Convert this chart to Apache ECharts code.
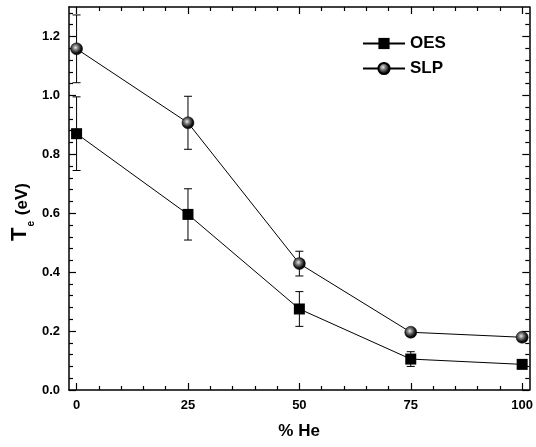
<!DOCTYPE html>
<html>
<head>
<meta charset="utf-8">
<script src="https://cdn.jsdelivr.net/npm/echarts@6/dist/echarts.min.js"></script>
<style>
html,body{margin:0;padding:0;background:#fff;}
#c{width:536px;height:447px;}
</style>
</head>
<body>
<div id="c"></div>
<script>
var heX = [0, 25, 50, 75, 100];
var oesVal = [0.870, 0.596, 0.275, 0.105, 0.087];
var oesErr = [0.125, 0.087, 0.059, 0.025, 0.010];
var slpVal = [1.158, 0.907, 0.429, 0.196, 0.179];
var slpErr = [0.115, 0.090, 0.042, 0.013, 0.012];
var xMajor = [0, 25, 50, 75, 100];
var yMajor = [0, 0.2, 0.4, 0.6, 0.8, 1.0, 1.2];

var FONT = '"Liberation Sans", Arial, sans-serif';
var XMIN = -1.7, XMAX = 101.6, YMIN = 0, YMAX = 1.3;

var xMinor = [];
for (var i = 0; i <= 20; i++) { var v = i * 5; if (v % 25 !== 0) xMinor.push(v); }
var yMinor = [];
for (var j = 0; j <= 32; j++) { var w = +(j * 0.04).toFixed(2); if (Math.abs(w / 0.2 - Math.round(w / 0.2)) > 1e-6) yMinor.push(w); }

function pts(xs, ys) { return xs.map(function (x, k) { return [x, ys[k]]; }); }
function errs(xs, ys, es) { return xs.map(function (x, k) { return [x, ys[k] - es[k], ys[k] + es[k]]; }); }

var sphere = {
  type: 'radial', x: 0.42, y: 0.4, r: 0.6,
  colorStops: [
    { offset: 0, color: '#e8e8e8' },
    { offset: 0.35, color: '#777' },
    { offset: 0.75, color: '#111' },
    { offset: 1, color: '#000' }
  ]
};

function xAx(pos, major, show) {
  return {
    type: 'value', position: pos, min: XMIN, max: XMAX,
    axisLine: { show: show, onZero: false, lineStyle: { color: '#000', width: 1.5 } },
    axisTick: { show: true, inside: true, length: major ? 7 : 4, customValues: major ? xMajor : xMinor, lineStyle: { color: '#000', width: 1.2 } },
    axisLabel: { show: major && pos === 'bottom', customValues: xMajor, margin: 9, color: '#000', fontFamily: FONT, fontWeight: 'bold', fontSize: 13 },
    splitLine: { show: false },
    name: (major && pos === 'bottom') ? '% He' : '',
    nameLocation: 'middle', nameGap: 33,
    nameTextStyle: { color: '#000', fontFamily: FONT, fontWeight: 'bold', fontSize: 17 }
  };
}
function yAx(pos, major, show) {
  return {
    type: 'value', position: pos, min: YMIN, max: YMAX,
    axisLine: { show: show, onZero: false, lineStyle: { color: '#000', width: 1.5 } },
    axisTick: { show: true, inside: true, length: major ? 7 : 4, customValues: major ? yMajor : yMinor, lineStyle: { color: '#000', width: 1.2 } },
    axisLabel: { show: major && pos === 'left', customValues: yMajor, margin: 9, color: '#000', fontFamily: FONT, fontWeight: 'bold', fontSize: 13,
      formatter: function (v) { return v.toFixed(1); } },
    splitLine: { show: false }
  };
}

function errRender(params, api) {
  var x = api.value(0), lo = api.value(1), hi = api.value(2);
  var p1 = api.coord([x, hi]), p2 = api.coord([x, lo]);
  var c = 4;
  var st = { stroke: '#000', lineWidth: 1 };
  return {
    type: 'group',
    children: [
      { type: 'line', shape: { x1: p1[0], y1: p1[1], x2: p2[0], y2: p2[1] }, style: st },
      { type: 'line', shape: { x1: p1[0] - c, y1: p1[1], x2: p1[0] + c, y2: p1[1] }, style: st },
      { type: 'line', shape: { x1: p2[0] - c, y1: p2[1], x2: p2[0] + c, y2: p2[1] }, style: st }
    ]
  };
}

var chart = echarts.init(document.getElementById('c'), null, { renderer: 'canvas' });
chart.setOption({
  animation: false,
  backgroundColor: '#fff',
  grid: { left: 69, right: 3, top: 7, bottom: 57, containLabel: false },
  xAxis: [xAx('bottom', true, true), xAx('bottom', false, false), xAx('top', true, true), xAx('top', false, false)],
  yAxis: [yAx('left', true, true), yAx('left', false, false), yAx('right', true, true), yAx('right', false, false)],
  graphic: [{
    type: 'text', x: 20, y: 212, rotation: Math.PI / 2,
    style: {
      text: '{a|T}{b|e}{c| (eV)}',
      align: 'center', verticalAlign: 'middle',
      rich: {
        a: { fill: '#000', fontFamily: FONT, fontWeight: 'bold', fontSize: 22 },
        b: { fill: '#000', fontFamily: FONT, fontWeight: 'bold', fontSize: 10, padding: [22, 1, 0, 1] },
        c: { fill: '#000', fontFamily: FONT, fontWeight: 'bold', fontSize: 17, padding: [5, 0, 0, 0] }
      }
    }
  }],
  legend: {
    left: 362, top: 35, padding: 0, orient: 'vertical', itemWidth: 42, itemHeight: 14, itemGap: 8,
    textStyle: { color: '#000', fontFamily: FONT, fontWeight: 'bold', fontSize: 17, lineHeight: 14 },
    data: ['OES', 'SLP']
  },
  series: [
    { type: 'custom', name: 'oesErr', renderItem: errRender, data: errs(heX, oesVal, oesErr), encode: { x: 0, y: [1, 2] }, z: 1, silent: true },
    { type: 'custom', name: 'slpErr', renderItem: errRender, data: errs(heX, slpVal, slpErr), encode: { x: 0, y: [1, 2] }, z: 1, silent: true },
    { type: 'line', name: 'OES', data: pts(heX, oesVal), symbol: 'rect', symbolSize: 11,
      lineStyle: { color: '#000', width: 1 }, itemStyle: { color: '#000' }, z: 3 },
    { type: 'line', name: 'SLP', data: pts(heX, slpVal), symbol: 'circle', symbolSize: 12,
      lineStyle: { color: '#000', width: 1 }, itemStyle: { color: sphere, borderColor: '#000', borderWidth: 0.5 }, z: 3 }
  ]
});
</script>
</body>
</html>
